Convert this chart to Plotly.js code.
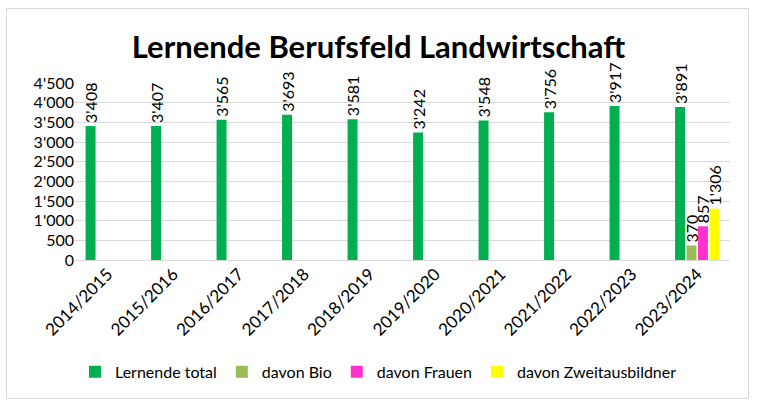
<!DOCTYPE html>
<html>
<head>
<meta charset="utf-8">
<script src="https://cdn.plot.ly/plotly-3.0.1.min.js"></script>
<style>
  html, body { margin: 0; padding: 0; background: #fff; }
  #wrap { position: relative; width: 757px; height: 410px; }
  #chart { position: absolute; left: 0; top: 0; width: 757px; height: 410px; }
  #frame {
    position: absolute; left: 6px; top: 8px; width: 741px; height: 389px;
    border: 1px solid #d9d9d9; pointer-events: none;
  }
</style>
</head>
<body>
<div id="wrap">
  <div id="chart"></div>
  <div id="frame"></div>
</div>
<script>
// ── Data ─────────────────────────────────────────────────────────────
const years = [
    '2014/2015', '2015/2016', '2016/2017', '2017/2018', '2018/2019',
    '2019/2020', '2020/2021', '2021/2022', '2022/2023', '2023/2024'
];
const lernendeTotal = [3408, 3407, 3565, 3693, 3581, 3242, 3548, 3756, 3917, 3891];
const bioYears = ['2023/2024'];
const davonBio = [370];
const davonFrauen = [857];
const davonZweitausbildner = [1306];
const yTicks = [0, 500, 1000, 1500, 2000, 2500, 3000, 3500, 4000, 4500];

const FONT = 'Lato, "Open Sans", sans-serif';

function barTrace(name, x, y, color) {
    return {
        type: 'bar',
        name: name,
        x: x,
        y: y,
        marker: { color: color },
        texttemplate: '%{y:,}',
        textposition: 'outside',
        textangle: -90,
        constraintext: 'none',
        cliponaxis: false,
        textfont: { family: FONT, size: 16, color: '#000' },
        hoverinfo: 'x+y'
    };
}

const traces = [
    barTrace('Lernende total', years, lernendeTotal, '#00b050'),
    barTrace('davon Bio', bioYears, davonBio, '#9bbb59'),
    barTrace('davon Frauen', bioYears, davonFrauen, '#ff33cc'),
    barTrace('davon Zweitausbildner', bioYears, davonZweitausbildner, '#ffff00')
];

const layout = {
    width: 757,
    height: 410,
    separators: ".'",
    font: { family: FONT, size: 16, color: '#000' },
    title: {
        text: '<b>Lernende Berufsfeld Landwirtschaft</b>',
        font: { family: FONT, size: 31, color: '#000' },
        x: 0.5, xanchor: 'center',
        y: 0.885, yanchor: 'middle'
    },
    barmode: 'group',
    bargap: 0.3,
    bargroupgap: 0.13,
    margin: { l: 75, r: 27, t: 83, b: 150 },
    xaxis: {
        type: 'category',
        categoryorder: 'array',
        categoryarray: years,
        tickangle: -45,
        tickfont: { family: FONT, size: 17, color: '#000' },
        showgrid: false,
        showline: false,
        ticks: ''
    },
    yaxis: {
        range: [0, 4500],
        tickmode: 'array',
        tickvals: yTicks,
        tickformat: ',',
        tickfont: { family: FONT, size: 16, color: '#000' },
        gridcolor: '#d9d9d9',
        gridwidth: 1,
        zeroline: true,
        zerolinecolor: '#d9d9d9',
        showline: false,
        ticks: ''
    },
    showlegend: true,
    legend: {
        orientation: 'h',
        x: 0.5, xanchor: 'center', xref: 'container',
        y: 0.093, yanchor: 'middle', yref: 'container',
        font: { family: FONT, size: 16, color: '#000' },
        itemwidth: 30,
        traceorder: 'normal'
    },
    paper_bgcolor: '#fff',
    plot_bgcolor: '#fff'
};

Plotly.newPlot('chart', traces, layout, { displayModeBar: false, staticPlot: true });
</script>
</body>
</html>
